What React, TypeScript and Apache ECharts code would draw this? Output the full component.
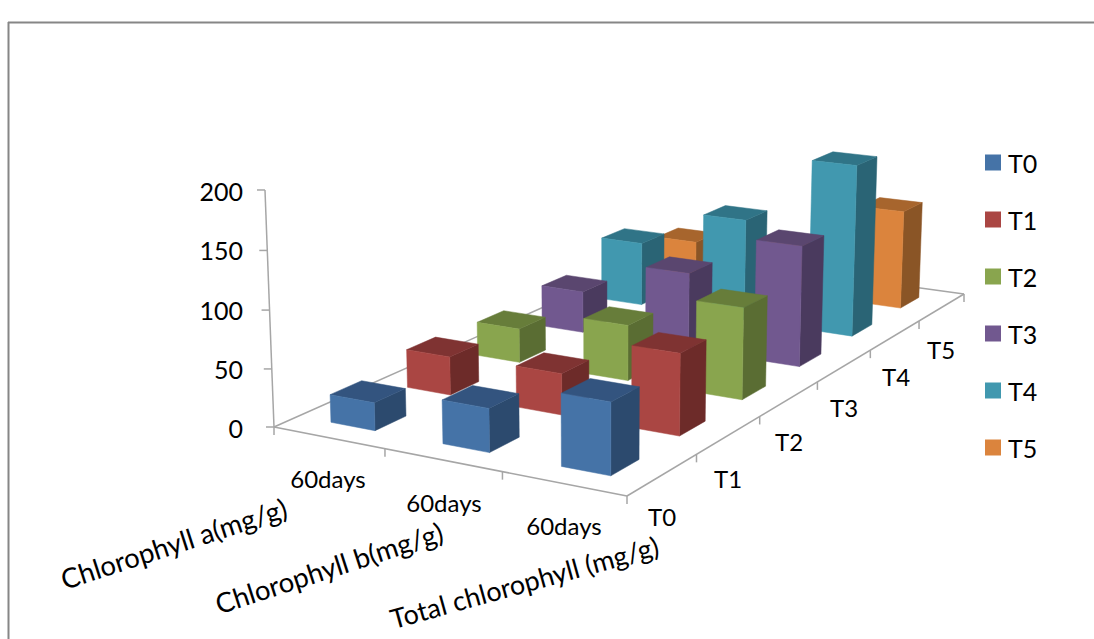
import React, { useEffect, useRef } from "react";
import * as echarts from "echarts";

const categories = ["Chlorophyll a(mg/g)", "Chlorophyll b(mg/g)", "Total chlorophyll (mg/g)"];
const subLabel = "60days";
const seriesNames = ["T0", "T1", "T2", "T3", "T4", "T5"];
const chlorophyllA = [24, 34, 31, 39, 61, 38];
const chlorophyllB = [37, 36, 50, 71, 97, 45];
const totalChlorophyll = [60, 70, 81, 110, 161, 95];
const yTicks = [0, 50, 100, 150, 200];

const front = ["#4573A7", "#AA4643", "#89A54E", "#71588F", "#4198AF", "#DB843D"];
const top = ["#33547F", "#7F3332", "#677D3A", "#5A466F", "#307487", "#A7652D"];
const side = ["#2C4A6E", "#6D2B29", "#5A6D33", "#4A3A5E", "#2A6475", "#8A5526"];

const FONT = "Lato";
const AXIS = "#A6A6A6";
const GRID_TOP = 191;
const GRID_H = 237;

// floor quad: A(0,0), B(1,0), C(1,1), D(0,1) and the vertical vanishing point
const A = [274, 427], B = [627, 496], C = [964, 294], D = [665, 253];
const VP = [603, 9077];
const LIFT = -0.02667;

const dx1 = B[0] - C[0], dx2 = D[0] - C[0], sx = A[0] - B[0] + C[0] - D[0];
const dy1 = B[1] - C[1], dy2 = D[1] - C[1], sy = A[1] - B[1] + C[1] - D[1];
const den = dx1 * dy2 - dx2 * dy1;
const g = (sx * dy2 - dx2 * sy) / den;
const h = (dx1 * sy - sx * dy1) / den;
const a0 = B[0] - A[0] + g * B[0], b0 = D[0] - A[0] + h * D[0];
const a1 = B[1] - A[1] + g * B[1], b1 = D[1] - A[1] + h * D[1];

function project(u: number, v: number, n: number): number[] {
  const t = LIFT * n;
  const w = 1 + g * u + h * v + t;
  return [
    (a0 * u + b0 * v + A[0] + t * VP[0]) / w,
    (a1 * u + b1 * v + A[1] + t * VP[1]) / w,
  ];
}

const BAR = 0.4;
const DEPTH = 0.4;

function barItem(j: number) {
  return (_p: any, api: any) => {
    const i = api.value(0);
    const base = api.coord([i, 0])[1];
    const n = (base - api.coord([i, api.value(1)])[1]) / GRID_H;
    const u0 = (i + (1 - BAR) / 2) / 3, u1 = (i + (1 + BAR) / 2) / 3;
    const v0 = (j + (1 - DEPTH) / 2) / 6, v1 = (j + (1 + DEPTH) / 2) / 6;
    const poly = (pts: number[][], fill: string) => ({
      type: "polygon",
      shape: { points: pts },
      style: { fill, stroke: fill, lineWidth: 0.5 },
    });
    return {
      type: "group",
      children: [
        poly([project(u1, v0, 0), project(u1, v1, 0), project(u1, v1, n), project(u1, v0, n)], side[j]),
        poly([project(u0, v0, n), project(u1, v0, n), project(u1, v1, n), project(u0, v1, n)], top[j]),
        poly([project(u0, v0, 0), project(u1, v0, 0), project(u1, v0, n), project(u0, v0, n)], front[j]),
      ],
    };
  };
}

function axesItem() {
  const seg = (p: number[], q: number[]) => ({
    type: "line",
    shape: { x1: p[0], y1: p[1], x2: q[0], y2: q[1] },
    style: { stroke: AXIS, lineWidth: 1.5 },
  });
  const children: any[] = [
    seg(project(0, 0, 0), project(1, 0, 0)),
    seg(project(1, 0, 0), project(1, 1, 0)),
    seg(project(1, 1, 0), project(0, 1, 0)),
    seg(project(0, 1, 0), project(0, 0, 0)),
    seg(project(0, 0, 0), project(0, 0, 1)),
  ];
  yTicks.forEach((t) => {
    const p = project(0, 0, t / 200);
    children.push(seg(p, [p[0] - 8, p[1]]));
  });
  categories.forEach((_c, i) => {
    const p = project(i / 3, 0, 0);
    children.push(seg(p, [p[0], p[1] + 8]));
  });
  const q = project(1, 0, 0);
  children.push(seg(q, [q[0], q[1] + 8]));
  seriesNames.forEach((_s, j) => {
    const p = project(1, (j + 1) / 6, 0);
    children.push(seg(p, [p[0], p[1] + 8]));
  });
  return { type: "group", children };
}

const label = (text: string, x: number, y: number, size: number, rotation = 0, align = "center") => ({
  type: "text",
  x,
  y,
  rotation,
  style: { text, fill: "#000", font: `${size}px ${FONT}`, align, verticalAlign: "middle" },
  z: 5,
});

export default function App() {
  const ref = useRef<HTMLDivElement>(null);
  useEffect(() => {
    const chart = echarts.init(ref.current!, undefined, { renderer: "svg" });
    const rows = seriesNames.map((_s, j) => [chlorophyllA[j], chlorophyllB[j], totalChlorophyll[j]]);
    const tilt = (18 * Math.PI) / 180;
    const tiltTotal = (15.5 * Math.PI) / 180;
    chart.setOption({
      animation: false,
      backgroundColor: "#fff",
      grid: { left: 252, top: GRID_TOP, width: 700, height: GRID_H },
      xAxis: { type: "category", data: categories, show: false },
      yAxis: {
        type: "value",
        min: 0,
        max: 200,
        interval: 50,
        axisLine: { show: false },
        axisTick: { show: false },
        splitLine: { show: false },
        axisLabel: { margin: 9, color: "#000", fontFamily: FONT, fontSize: 25 },
      },
      legend: {
        orient: "vertical",
        left: 985,
        top: 150,
        padding: 0,
        itemWidth: 16,
        itemHeight: 16,
        itemGap: 32,
        icon: "rect",
        data: seriesNames,
        textStyle: { color: "#000", fontFamily: FONT, fontSize: 25, padding: [0, 0, 0, 2] },
      },
      graphic: [
        { type: "line", shape: { x1: 8.5, y1: 22, x2: 8.5, y2: 639 }, style: { stroke: "#868686", lineWidth: 2 } },
        { type: "line", shape: { x1: 8, y1: 22.5, x2: 1094, y2: 22.5 }, style: { stroke: "#868686", lineWidth: 2 } },
        label(subLabel, 328, 478, 24),
        label(subLabel, 444, 502, 24),
        label(subLabel, 564, 525, 24),
        label(categories[0], 286, 507, 27.5, tilt, "right"),
        label(categories[1], 442, 531, 27.5, tilt, "right"),
        label(categories[2], 658, 545, 27, tiltTotal, "right"),
        label("T0", 662, 516, 24),
        label("T1", 728, 478, 24),
        label("T2", 789, 441, 24),
        label("T3", 844, 407, 24),
        label("T4", 896, 376, 24),
        label("T5", 941, 349, 24),
      ],
      series: [
        {
          type: "custom",
          name: "axes",
          coordinateSystem: "cartesian2d",
          z: 1,
          silent: true,
          data: [[0, 0]],
          renderItem: axesItem,
        },
        ...seriesNames.map((name, j) => ({
          type: "custom",
          name,
          coordinateSystem: "cartesian2d",
          z: 10 + (5 - j),
          itemStyle: { color: front[j] },
          encode: { x: 0, y: 1 },
          data: rows[j].map((val, i) => [i, val]),
          renderItem: barItem(j),
        })),
      ],
    });
    return () => chart.dispose();
  }, []);
  return <div ref={ref} style={{ position: "absolute", left: 0, top: 0, width: 1094, height: 639 }} />;
}
